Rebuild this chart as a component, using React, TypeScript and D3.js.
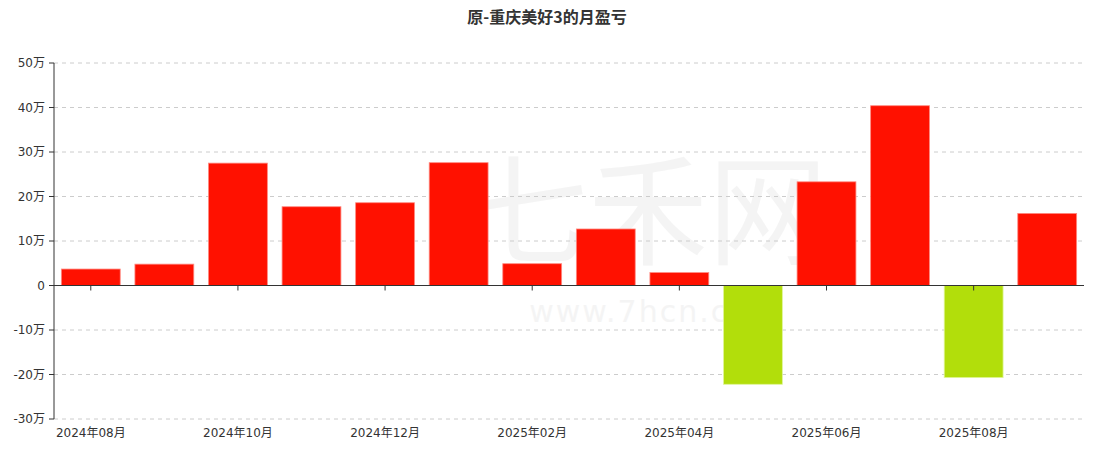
import React from "react";
import * as d3 from "d3";

const categories = [
  "2024年08月", "2024年09月", "2024年10月", "2024年11月", "2024年12月", "2025年01月", "2025年02月",
  "2025年03月", "2025年04月", "2025年05月", "2025年06月", "2025年07月", "2025年08月", "2025年09月",
];
const values = [3.7, 4.8, 27.5, 17.7, 18.6, 27.6, 4.9, 12.7, 2.9, -22.2, 23.3, 40.4, -20.7, 16.2];
const yTicks = [-30, -20, -10, 0, 10, 20, 30, 40, 50];
const title = "原-重庆美好3的月盈亏";

const W = 1094, H = 451;
const left = 54, right = 1084, top = 63, bottom = 419;
const font = "'Noto Sans CJK SC', 'DejaVu Sans', sans-serif";
const axisFont = "'DejaVu Sans', 'Noto Sans CJK SC', sans-serif";

export default function App() {
  const x = d3.scaleBand().domain(categories).range([left, right]).paddingInner(0.2).paddingOuter(0.1);
  const xc = d3.scaleBand().domain(categories).range([left, right]);
  const y = d3.scaleLinear().domain([-30, 50]).range([bottom, top]);
  const fmt = (v: number) => (v === 0 ? "0" : `${v}万`);
  return (
    <svg width={W} height={H} style={{ position: "fixed", left: 0, top: 0, background: "#fff" }} fontFamily={font}>
      <g fill="#eeeeee" opacity={0.6} textAnchor="middle">
        <text x={648} y={256} fontSize={120} fontFamily={font}>七禾网</text>
        <text x={655} y={322} fontSize={30} fontFamily="'DejaVu Sans', sans-serif" letterSpacing={2}>www.7hcn.com</text>
      </g>
      <text x={W / 2} y={23} textAnchor="middle" fontSize={16} fontWeight="bold" fill="#333">{title}</text>
      {yTicks.map((t) => (
        <g key={t}>
          {t !== 0 && (
            <line x1={left} x2={right} y1={y(t)} y2={y(t)} stroke="#ccc" strokeDasharray="4,4" />
          )}
          <line x1={left - 5} x2={left} y1={y(t)} y2={y(t)} stroke="#333" />
          <text x={left - 9} y={y(t)} dy="0.35em" textAnchor="end" fontSize={12} fill="#333" fontFamily={axisFont}>{fmt(t)}</text>
        </g>
      ))}
      {categories.map((c, i) => {
        const v = values[i];
        const y0 = y(0), y1 = y(v);
        return (
          <rect key={c} x={x(c)} width={x.bandwidth()} y={Math.min(y0, y1)} height={Math.abs(y1 - y0)}
            fill={v >= 0 ? "#ff1100" : "#b2de0b"}
            stroke={v >= 0 ? "#ff8a80" : "#e0f59a"} strokeWidth={0.8} />
        );
      })}
      <line x1={left} x2={left} y1={top} y2={bottom} stroke="#333" />
      <line x1={left} x2={right} y1={y(0)} y2={y(0)} stroke="#333" />
      {categories.map((c, i) => i % 2 === 0 ? (
        <g key={c}>
          <line x1={xc(c)! + xc.bandwidth() / 2} x2={xc(c)! + xc.bandwidth() / 2} y1={y(0)} y2={y(0) + 5} stroke="#333" />
          <text x={xc(c)! + xc.bandwidth() / 2} y={bottom + 18} textAnchor="middle" fontSize={12} fill="#333" fontFamily={axisFont}>{c}</text>
        </g>
      ) : null)}
    </svg>
  );
}
